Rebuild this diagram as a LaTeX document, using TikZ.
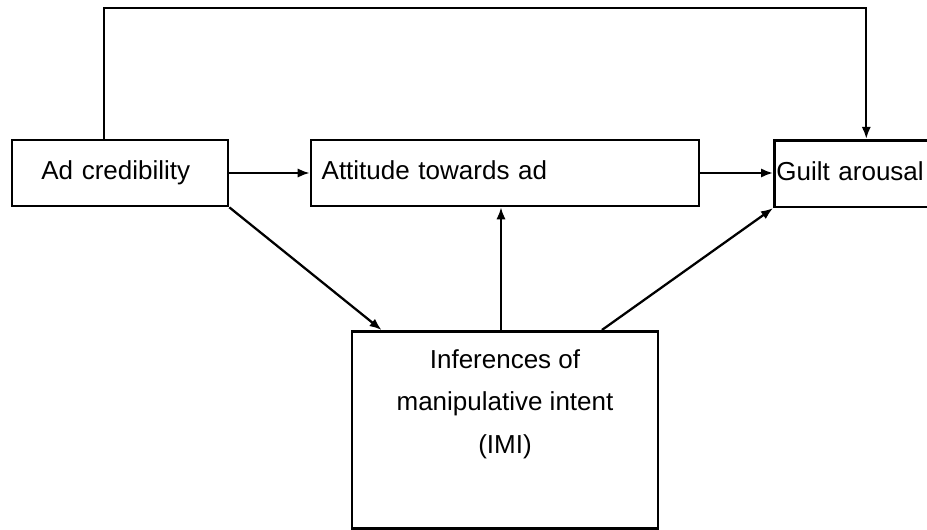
\documentclass[tikz,border=0pt]{standalone}
\usepackage{fontspec}
\setmainfont{Liberation Sans}
\usetikzlibrary{calc,arrows.meta}

\tikzset{every picture/.style={line width=0.75pt}}
\tikzset{
  boxnode/.style={draw, line width=2pt, inner sep=0pt, text height=14pt, text depth=4pt, font=\fontsize{19.5}{32}\selectfont},
  conn/.style={line width=1.7pt, -{Latex[length=9pt,width=7pt]}},
}

\begin{document}
\begin{tikzpicture}[x=0.75pt,y=0.75pt,yscale=-1,xscale=1]
\useasboundingbox (0,0) rectangle (927,529);
\clip (0,0) rectangle (927,529);

%Shape: Rectangle [Ad credibility]
\node [boxnode, minimum width=162pt, minimum height=49.5pt, text width=144pt, align=left] (credbox) at (120,173) {\hspace*{13pt}Ad credibility};
%Shape: Rectangle [Attitude towards ad]
\node [boxnode, minimum width=291pt, minimum height=49.5pt, text width=283pt, align=left] (attbox) at (505,173) {\hspace*{4pt}Attitude towards ad};
%Shape: Rectangle [Guilt arousal]
\node [boxnode, minimum width=130pt, minimum height=50pt, text width=127pt, align=left, anchor=west] (guiltbox) at (773,173.5) {Guilt arousal};
%Shape: Rectangle [IMI]
\node [boxnode, minimum width=229.5pt, minimum height=147.75pt, anchor=north] (imibox) at (505,330) {};
% Text Node
\node [font=\fontsize{19.5}{32}\selectfont, align=center, anchor=north, inner sep=0pt] (imitext) at (505,349) {Inferences of\\manipulative intent\\(IMI)};

%Coordinates on the box edges
\coordinate (credtop) at ($(credbox.north west)!0.426!(credbox.north east)$);
\coordinate (guilttop) at ($(guiltbox.north west)!0.53!(guiltbox.north east)$);
\coordinate (imileft) at ($(imibox.north west)!0.1!(imibox.north east)$);
\coordinate (imimid) at ($(imibox.north west)!0.487!(imibox.north east)$);
\coordinate (imiright) at ($(imibox.north west)!0.814!(imibox.north east)$);
\coordinate (topleft) at (credtop |- 0,8);
\coordinate (topright) at (guilttop |- 0,8);

%Straight Lines
\draw [conn] (credbox.east) -- (attbox.west);
\draw [conn] (attbox.east) -- (guiltbox.west |- attbox.east);
\draw [conn] (credbox.south east) -- (imileft);
\draw [conn] (imimid) -- (imimid |- attbox.south);
\draw [conn] (imiright) -- (guiltbox.south west);
\draw [conn] (credtop) -- (topleft) -- (topright) -- (guilttop);

\end{tikzpicture}
\end{document}
